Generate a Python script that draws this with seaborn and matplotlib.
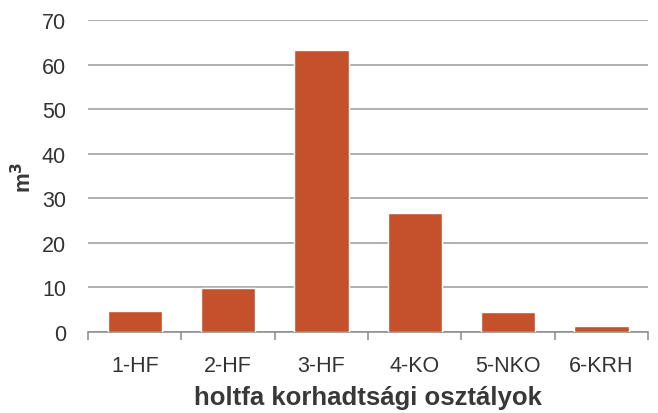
import matplotlib
matplotlib.use('Agg')
import matplotlib.pyplot as plt
import seaborn as sns
import pandas as pd
import numpy as np

# Data
categories = ['1-HF', '2-HF', '3-HF', '4-KO', '5-NKO', '6-KRH']
volumes = [4.6, 9.8, 63.4, 26.8, 4.5, 1.4]

sns.set_style('white')
plt.rcParams['font.family'] = ['Liberation Sans', 'DejaVu Sans']

df = pd.DataFrame({'class': categories, 'volume': volumes})

fig = plt.figure(figsize=(6.58, 4.14), dpi=100)
ax = fig.add_axes([0.134, 0.196, 0.851, 0.753])

sns.barplot(data=df, x='class', y='volume', color='#C4512B', saturation=1,
            width=0.58, ax=ax, zorder=3)

# gridlines and axis
ax.set_ylim(0, 70)
ax.set_yticks(np.arange(0, 71, 10))
ax.set_xlim(-0.5, len(categories) - 0.5)
ax.yaxis.grid(True, color='#9a9a9a', linewidth=1.1, zorder=0)
ax.set_axisbelow(True)
for side in ['top', 'right', 'left']:
    ax.spines[side].set_visible(False)
ax.spines['bottom'].set_color('#8a8a8a')
ax.spines['bottom'].set_linewidth(1.1)

# category ticks sit between the bars
ax.set_xticks(np.arange(len(categories)))
ax.set_xticklabels(categories)
ax.set_xticks(np.arange(-0.5, len(categories), 1), minor=True)
ax.tick_params(axis='x', which='major', bottom=False, length=0, pad=17,
               labelsize=15.5, labelcolor='#333333')
ax.tick_params(axis='x', which='minor', bottom=True, length=6, width=1.1,
               color='#8a8a8a', direction='out')
ax.tick_params(axis='y', length=0, pad=16, labelsize=15.5, labelcolor='#333333')

ax.set_xlabel('holtfa korhadtsági osztályok', fontsize=18.5, fontweight='bold',
              color='#383838', labelpad=6)
ax.set_ylabel('m$^\\mathbf{3}$', fontsize=16, fontweight='bold', color='#383838', labelpad=4)

fig.savefig('out.png', dpi=100)
